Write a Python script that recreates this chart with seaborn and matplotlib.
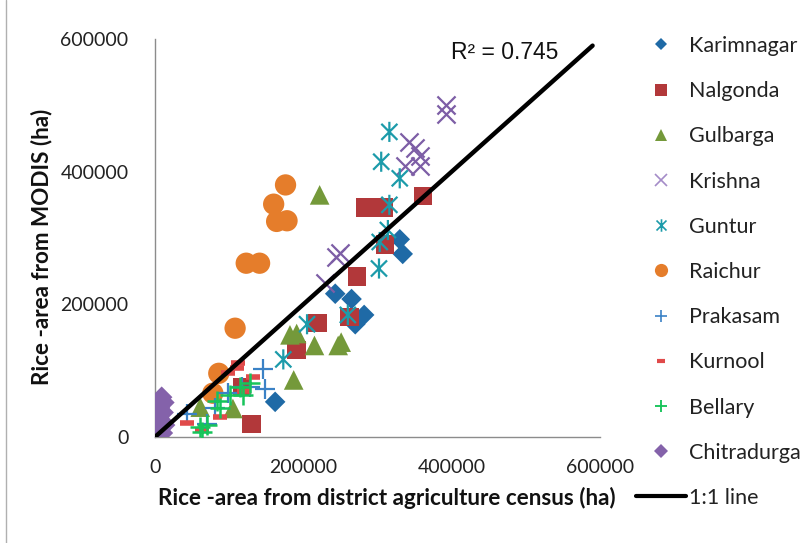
import numpy as np
import pandas as pd
import matplotlib
matplotlib.use("Agg")
import matplotlib.pyplot as plt
import seaborn as sns
from matplotlib.path import Path
from matplotlib.lines import Line2D

# ---------------- data ----------------
karimnagar_x = [330000, 334000, 243000, 265000, 282000, 270000, 162000]
karimnagar_y = [298000, 276000, 216000, 208000, 184000, 170000, 53000]

nalgonda_x = [283000, 308000, 361000, 310000, 272000, 262000, 219000, 191000, 130000, 117000]
nalgonda_y = [346000, 346000, 363000, 290000, 242000, 181000, 172000, 131000, 20000, 75000]

gulbarga_x = [222000, 182000, 191000, 215000, 247000, 251000, 187000, 61000, 105000]
gulbarga_y = [365000, 154000, 156000, 138000, 138000, 143000, 86000, 45000, 43000]

krishna_x = [393000, 393000, 343000, 350000, 357000, 337000, 357000, 250000, 244000, 229000]
krishna_y = [500000, 487000, 445000, 435000, 423000, 408000, 408000, 277000, 271000, 232000]

guntur_x = [316000, 305000, 330000, 316000, 314000, 303000, 302000, 260000, 205000, 173000]
guntur_y = [460000, 415000, 390000, 350000, 312000, 294000, 254000, 184000, 170000, 117000]

raichur_x = [176000, 160000, 164000, 178000, 123000, 141000, 108000, 86000, 78000]
raichur_y = [380000, 351000, 325000, 326000, 262000, 262000, 164000, 96000, 66000]

prakasam_x = [146000, 148000, 128000, 43000, 81000, 99000, 117000, 70000]
prakasam_y = [103000, 73000, 76000, 35000, 43000, 66000, 76000, 20000]

kurnool_x = [112000, 110000, 99000, 132000, 120000, 43000, 88000, 63000]
kurnool_y = [111000, 104000, 96000, 91000, 70000, 21000, 30000, 10000]

bellary_x = [61000, 70000, 63000, 88000, 101000, 114000, 119000, 128000, 83000]
bellary_y = [15000, 18000, 7000, 43000, 63000, 76000, 63000, 81000, 55000]

chitradurga_x = [9000, 12000, 6000, 11000, 5000, 9000, 13000, 6000, 10000]
chitradurga_y = [60000, 52000, 44000, 37000, 30000, 24000, 18000, 12000, 6000]

line_x = [0, 590000]
line_y = [0, 590000]

r2_text = "R² = 0.745"
x_ticks = [0, 200000, 400000, 600000]
y_ticks = [0, 200000, 400000, 600000]

# ---------------- styling ----------------
sns.set_theme(style="white")
plt.rcParams["font.family"] = ["Lato", "DejaVu Sans"]

ast_path = Path(
    [(0, -1), (0, 1), (-0.8, -0.8), (0.8, 0.8), (-0.8, 0.8), (0.8, -0.8)],
    [Path.MOVETO, Path.LINETO, Path.MOVETO, Path.LINETO, Path.MOVETO, Path.LINETO],
)

series = [
    # name, x, y, marker, color, size, linewidth, filled
    ("Karimnagar", karimnagar_x, karimnagar_y, "D", "#1F6AA6", 110, 0, True),
    ("Nalgonda", nalgonda_x, nalgonda_y, "s", "#B2383A", 175, 0, True),
    ("Gulbarga", gulbarga_x, gulbarga_y, "^", "#74993A", 200, 0, True),
    ("Krishna", krishna_x, krishna_y, "x", "#7D5EA6", 170, 1.6, False),
    ("Guntur", guntur_x, guntur_y, ast_path, "#1C9BAA", 210, 1.6, "path"),
    ("Raichur", raichur_x, raichur_y, "o", "#E57D2B", 235, 0, True),
    ("Prakasam", prakasam_x, prakasam_y, "+", "#3B82C6", 190, 1.6, False),
    ("Kurnool", kurnool_x, kurnool_y, "_", "#E04A4A", 95, 4.0, False),
    ("Bellary", bellary_x, bellary_y, "+", "#17C45A", 210, 1.8, False),
    ("Chitradurga", chitradurga_x, chitradurga_y, "D", "#8462AA", 120, 0, True),
]

fig = plt.figure(figsize=(8.12, 5.43), dpi=100)
W, H = 812, 543
ax = fig.add_axes([155 / W, (H - 437) / H, (600 - 155) / W, (437 - 39) / H])

for name, xs, ys, mk, col, s, lw, filled in series:
    df = pd.DataFrame({"x": xs, "y": ys})
    if filled is True:
        sns.scatterplot(data=df, x="x", y="y", marker=mk, color=col, s=s,
                        linewidth=0, edgecolor="none", ax=ax, zorder=3)
    elif filled == "path":
        sns.scatterplot(data=df, x="x", y="y", marker=mk, color=col, s=s,
                        linewidth=lw, edgecolor=col, facecolor="none", ax=ax, zorder=3)
    else:
        sns.scatterplot(data=df, x="x", y="y", marker=mk, color=col, s=s,
                        linewidth=lw, ax=ax, zorder=3)

sns.lineplot(x=line_x, y=line_y, color="black", linewidth=3.2, ax=ax, zorder=4)

ax.text(0.665, 0.965, r2_text, transform=ax.transAxes, fontsize=16.5,
        family=["Liberation Sans", "DejaVu Sans"], color="#111111",
        ha="left", va="center")

ax.set_xlim(0, 600000)
ax.set_ylim(0, 600000)
ax.set_xticks(x_ticks)
ax.set_yticks(y_ticks)
ax.set_xticklabels([str(v) for v in x_ticks])
ax.set_yticklabels([str(v) for v in y_ticks])
ax.tick_params(axis="both", which="major", direction="out", length=6, width=1,
               color="#8C8C8C", labelsize=14, labelcolor="#222222")
ax.tick_params(axis="x", pad=10)
ax.tick_params(axis="y", pad=13)
for side in ["top", "right"]:
    ax.spines[side].set_visible(False)
for side in ["left", "bottom"]:
    ax.spines[side].set_color("#8C8C8C")
    ax.spines[side].set_linewidth(1.0)

ax.set_xlabel("Rice -area from district agriculture census (ha)", fontsize=16.2,
              fontweight="bold", color="#111111")
ax.set_ylabel("Rice -area from MODIS (ha)", fontsize=16.2, fontweight="bold",
              color="#111111")
ax.xaxis.set_label_coords((387 - 155) / (600 - 155), -(498 - 437) / (437 - 39))
ax.yaxis.set_label_coords(-(155 - 42) / (600 - 155), (437 - 247) / (437 - 39))
ax.xaxis.label.set_va("center")
ax.yaxis.label.set_va("center")

# legend
handles = []
for name, xs, ys, mk, col, s, lw, filled in series:
    ms = np.sqrt(s) * 0.62
    if filled is True:
        h = Line2D([], [], linestyle="none", marker=mk, color=col, markersize=ms,
                   markeredgewidth=0)
    else:
        lc = col if name != "Krishna" else "#A48CC8"
        h = Line2D([], [], linestyle="none", marker=mk, color=lc, markersize=ms,
                   markeredgewidth=max(lw * 0.75, 1.2) if name != "Kurnool" else 3.0,
                   markerfacecolor="none" if filled == "path" else lc,
                   markeredgecolor=lc)
    handles.append(h)
handles.append(Line2D([], [], color="black", linewidth=3))
labels = [s_[0] for s_ in series] + ["1:1 line"]

fig.legend(handles, labels, loc="upper left",
           bbox_to_anchor=(636 / W, 1 - 36 / H), frameon=False, fontsize=15.5,
           borderpad=0, borderaxespad=0, handlelength=2.3, handletextpad=0.15,
           labelspacing=1.17, labelcolor="#222222")

# chart-area border
fig.add_artist(Line2D([6 / W, 6 / W], [0, 1], transform=fig.transFigure,
                      color="#B0B0B0", linewidth=1))

fig.savefig("out.png", dpi=100)
